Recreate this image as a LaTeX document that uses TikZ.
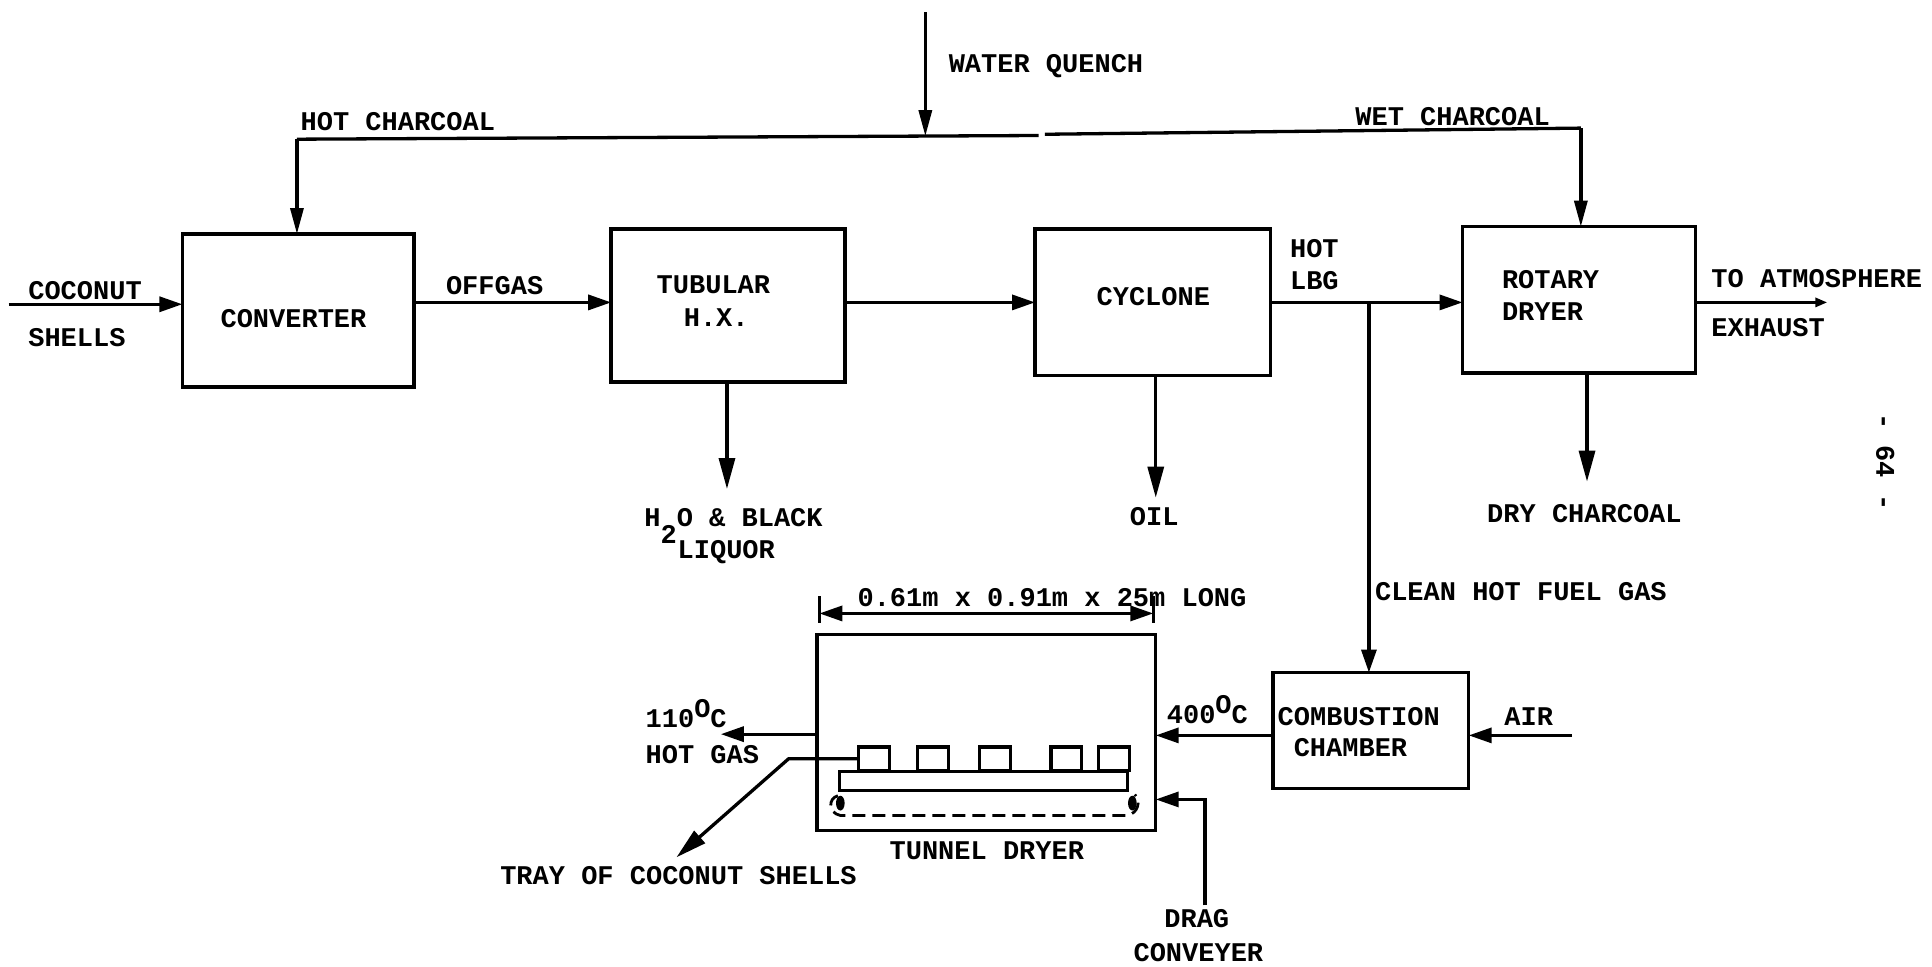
\documentclass[tikz,border=0pt]{standalone}
\usepackage{fontspec}
\setmainfont{Liberation Mono}
\usetikzlibrary{arrows.meta}
\newcommand{\degC}{\smash{\raisebox{10pt}{O}}C}
\tikzset{
  unitbox/.style={draw=black,line width=3.5pt,minimum width=#1,inner sep=0pt,outer sep=0pt,rectangle},
  flow/.style={line width=3.3pt,draw=black,-{Triangle[length=23pt,width=15pt]}},
  longflow/.style={line width=3.3pt,draw=black,-{Triangle[length=31pt,width=16pt]}},
  narrowflow/.style={line width=3.3pt,draw=black,-{Triangle[length=26pt,width=13pt]}},
  smallflow/.style={line width=3.3pt,draw=black,-{Triangle[length=12pt,width=9pt]}},
  wire/.style={line width=3.3pt,draw=black},
  lbl/.style={anchor=west,inner sep=0pt,outer sep=0pt,font=\fontsize{27}{27}\selectfont\bfseries},
  tray/.style={draw=black,line width=3.2pt,minimum width=30.8pt,minimum height=23.4pt,inner sep=0pt,outer sep=0pt}
}
\begin{document}
\begin{tikzpicture}[x=1.23214pt,y=-1.2318pt]
\useasboundingbox[fill=white] (0,0) rectangle (1568,785);
% boxes
\node[unitbox=231.6pt,minimum height=152.8pt] (conv) at (242,252) {};
\node[unitbox=234pt,minimum height=152.8pt] (tub) at (591,248) {};
\node[unitbox=235.3pt,minimum height=146.6pt] (cyc) at (935.5,245.5) {};
\node[unitbox=232.9pt,minimum height=146.6pt] (rot) at (1281.5,243.5) {};
\node[unitbox=195.9pt,minimum height=115.8pt] (comb) at (1112.5,593) {};
\node[unitbox=338.8pt,minimum height=195.9pt] (tun) at (800.5,594.5) {};
% dryer internals
\node[tray] (t1) at (709.5,616) {};
\node[tray] (t2) at (757,616) {};
\node[tray] (t3) at (807.5,616) {};
\node[tray] (t4) at (865.5,616) {};
\node[tray] (t5) at (904,616) {};
\node[draw=black,line width=3pt,minimum width=288.3pt,minimum height=19.7pt,inner sep=0pt,outer sep=0pt] (belt) at (798,634) {};
\coordinate (pl) at (682,652);
\coordinate (pr) at (919,652);
\fill (pl) ellipse (3.5 and 6);
\fill (pr) ellipse (3.5 and 6);
\draw[line width=2.8pt,dash pattern=on 13pt off 7pt] (680,646) .. controls (672,648) and (672,660) .. (682,662) -- (915,662) .. controls (924,660) and (926,650) .. (921,645);
% coordinates
\coordinate (row) at (0,245.5);
\coordinate (shellsIn) at (7,247);
\coordinate (hcL) at (241,113);
\coordinate (hcW) at (751,110.5);
\coordinate (gapL) at (843,110);
\coordinate (gapR) at (848,109);
\coordinate (hcR) at (1283,104);
\coordinate (wq) at (751,10);
\coordinate (blk) at (590,397);
\coordinate (oil) at (938,404);
\coordinate (dry) at (1288,391);
\coordinate (exh) at (1483,245.5);
\coordinate (br) at (1111,245.5);
\coordinate (air) at (1276,597);
\coordinate (gasL) at (585,596);
\coordinate (trayK) at (640,616);
\coordinate (trayE) at (549,696);
\coordinate (drag) at (978,735);
\coordinate (dragK) at (978,649);
\coordinate (dimL) at (665,498);
\coordinate (dimR) at (936,498);
% connectors
\draw[flow] (shellsIn) -- (conv.west |- shellsIn);
\draw[flow] (conv.east |- row) -- (tub.west |- row);
\draw[flow] (tub.east |- row) -- (cyc.west |- row);
\draw[flow] (cyc.east |- row) -- (rot.west |- row);
\draw[smallflow] (rot.east |- row) -- (exh);
\draw[wire] (hcL) -- (gapL);
\draw[wire] (gapR) -- (hcR);
\draw[narrowflow] (hcL) -- (hcL |- conv.north);
\draw[narrowflow] (hcR) -- (hcR |- rot.north);
\draw[narrowflow] (wq) -- (hcW);
\draw[longflow] (blk |- tub.south) -- (blk);
\draw[longflow] (oil |- cyc.south) -- (oil);
\draw[longflow] (dry |- rot.south) -- (dry);
\draw[flow] (br) -- (br |- comb.north);
\draw[flow] (air) -- (comb.east |- air);
\draw[flow] (comb.west |- air) -- (tun.east |- air);
\draw[flow] (tun.west |- gasL) -- (gasL);
\draw[longflow] (t1.west) -- (trayK) -- (trayE);
\draw[flow] (drag) -- (dragK) -- (tun.east |- dragK);
\draw[line width=3.3pt,{Triangle[length=23pt,width=15pt]}-{Triangle[length=23pt,width=15pt]}] (dimL) -- (dimR);
\draw[wire] (665,484) -- (665,506);
\draw[wire] (936,484) -- (936,506);
% labels
\node[lbl] (l1) at (23,236) {COCONUT};
\node[lbl] (l2) at (23,274) {SHELLS};
\node[lbl] (l3) at (179,259) {CONVERTER};
\node[lbl] (l4) at (362,232) {OFFGAS};
\node[lbl] (l5) at (533,231) {TUBULAR};
\node[lbl] (l6) at (555,258) {H.X.};
\node[lbl] (l7) at (890,241) {CYCLONE};
\node[lbl] (l8) at (1047,202) {HOT};
\node[lbl] (l9) at (1047,228) {LBG};
\node[lbl] (l10) at (1219,227) {ROTARY};
\node[lbl] (l11) at (1219,253) {DRYER};
\node[lbl] (l12) at (1389,226) {TO ATMOSPHERE};
\node[lbl] (l13) at (1389,266) {EXHAUST};
\node[lbl] (l14) at (244,99) {HOT CHARCOAL};
\node[lbl] (l15) at (1100,95) {WET CHARCOAL};
\node[lbl] (l16) at (770,54) {WATER QUENCH};
\node[lbl] (l17) at (1207,417) {DRY CHARCOAL};
\node[lbl] (l18) at (917,419) {OIL};
\node[lbl] (l19) at (523,420) {H\smash{\raisebox{-17pt}{2}}O \& BLACK};
\node[lbl] (l20) at (550,448) {LIQUOR};
\node[lbl] (l21) at (1116,480) {CLEAN HOT FUEL GAS};
\node[lbl] (l22) at (1037,582) {COMBUSTION};
\node[lbl] (l23) at (1050,607) {CHAMBER};
\node[lbl] (l24) at (1221,582) {AIR};
\node[lbl] (l25) at (947,580) {400\degC};
\node[lbl] (l26) at (524,583) {110\degC};
\node[lbl] (l27) at (524,613) {HOT GAS};
\node[lbl] (l28) at (722,691) {TUNNEL DRYER};
\node[lbl] (l29) at (406,711) {TRAY OF COCONUT SHELLS};
\node[lbl] (l30) at (945,746) {DRAG};
\node[lbl] (l31) at (920,773) {CONVEYER};
\node[lbl] (l32) at (696,485) {0.61m x 0.91m x 25m LONG};
\node[lbl,anchor=center,rotate=-90] (l33) at (1530,375) {- 64 -};
\end{tikzpicture}
\end{document}
